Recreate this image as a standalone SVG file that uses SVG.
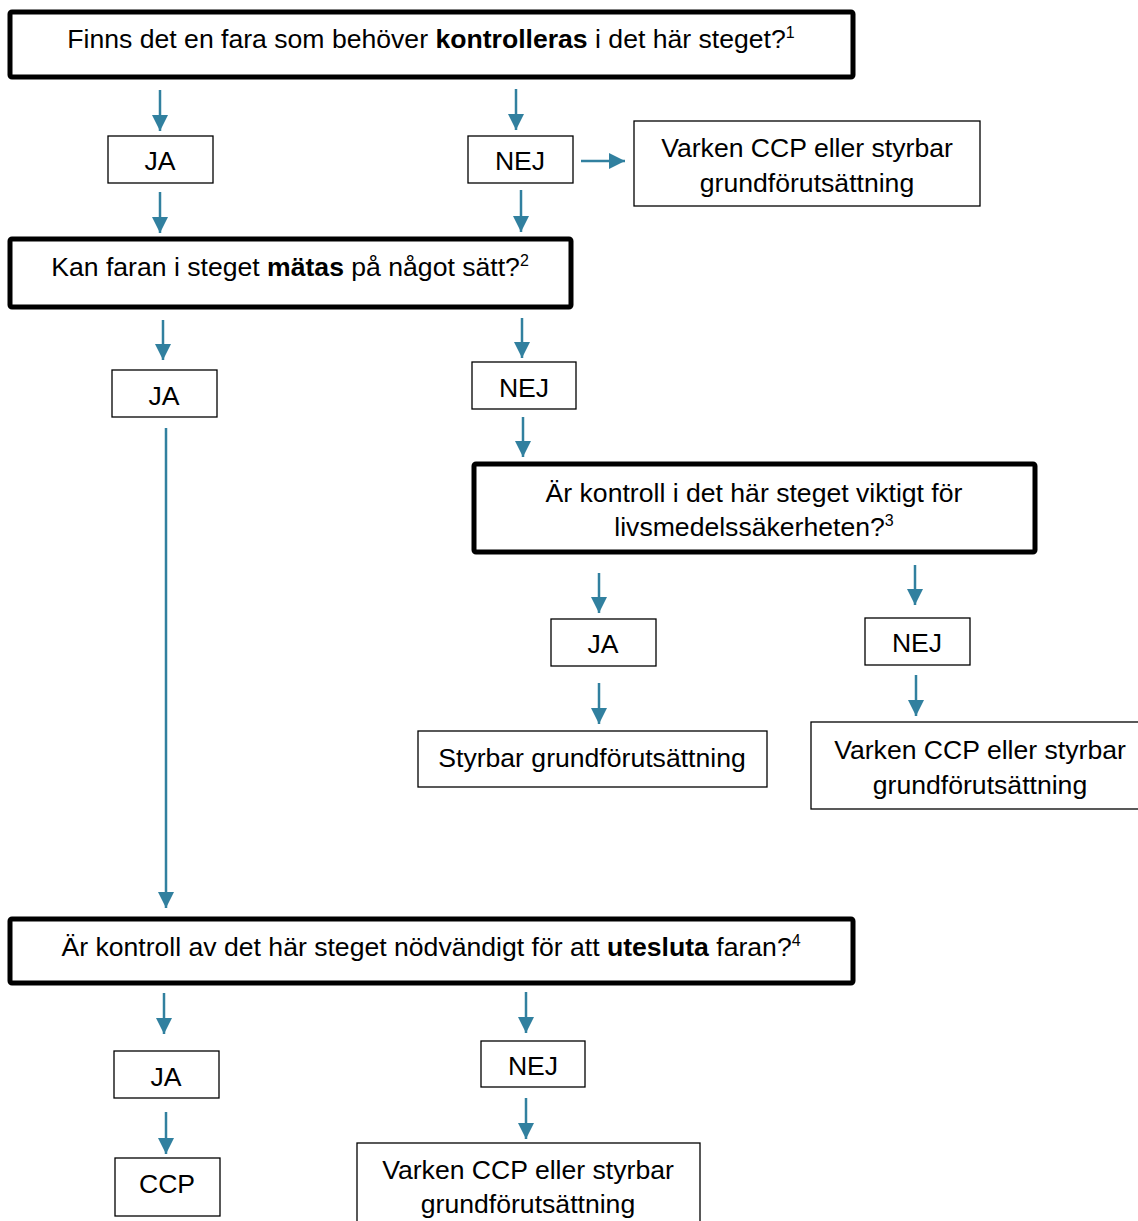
<svg xmlns="http://www.w3.org/2000/svg" width="1138" height="1221" viewBox="0 0 1138 1221">
<defs>
<style>
text{font-family:"Liberation Sans",Arial,sans-serif;font-size:26.6px;fill:#000;text-anchor:middle}
.b{font-weight:bold}
.sup{font-size:16px}
.q{fill:#fff;stroke:#000;stroke-width:5}
.a{fill:#fff;stroke:#000;stroke-width:1.3}
.c line{stroke:#31809f;stroke-width:2.5;marker-end:url(#ah)}
</style>
<marker id="ah" markerUnits="userSpaceOnUse" markerWidth="17" markerHeight="16" refX="16" refY="8" orient="auto">
<path d="M0,0 L16,8 L0,16 z" fill="#31809f"/>
</marker>
</defs>
<rect width="1138" height="1221" fill="#fff"/>
<g class="c" id="connectors">
<line x1="160" y1="90" x2="160" y2="131"/>
<line x1="516" y1="89" x2="516" y2="130"/>
<line x1="581" y1="161" x2="625" y2="161"/>
<line x1="160" y1="192" x2="160" y2="233"/>
<line x1="521" y1="190" x2="521" y2="232"/>
<line x1="163" y1="320" x2="163" y2="360"/>
<line x1="522" y1="318" x2="522" y2="358"/>
<line x1="523" y1="417" x2="523" y2="457"/>
<line x1="166" y1="428" x2="166" y2="908"/>
<line x1="599" y1="573" x2="599" y2="613"/>
<line x1="915" y1="565" x2="915" y2="605"/>
<line x1="599" y1="683" x2="599" y2="724"/>
<line x1="916" y1="675" x2="916" y2="716"/>
<line x1="164" y1="993" x2="164" y2="1034"/>
<line x1="526" y1="992" x2="526" y2="1033"/>
<line x1="166" y1="1112" x2="166" y2="1154"/>
<line x1="526" y1="1098" x2="526" y2="1139"/>
</g>
<g id="q1"><rect class="q" x="10" y="12" width="843" height="65" rx="2"/>
<text x="431" y="48">Finns det en fara som behöver <tspan class="b">kontrolleras</tspan> i det här steget?<tspan class="sup" dy="-10">1</tspan></text></g>
<g id="ja1"><rect class="a" x="108" y="136" width="105" height="47"/><text x="160" y="170">JA</text></g>
<g id="nej1"><rect class="a" x="468" y="136" width="105" height="47"/><text x="520" y="170">NEJ</text></g>
<g id="varken1"><rect class="a" x="634" y="121" width="346" height="85"/><text x="807" y="157">Varken CCP eller styrbar</text><text x="807" y="192">grundförutsättning</text></g>
<g id="q2"><rect class="q" x="10" y="239" width="561" height="68" rx="2"/>
<text x="290" y="276">Kan faran i steget <tspan class="b">mätas</tspan> på något sätt?<tspan class="sup" dy="-10">2</tspan></text></g>
<g id="ja2"><rect class="a" x="112" y="370" width="105" height="47"/><text x="164" y="405">JA</text></g>
<g id="nej2"><rect class="a" x="472" y="362" width="104" height="47"/><text x="524" y="397">NEJ</text></g>
<g id="q3"><rect class="q" x="474" y="464" width="561" height="88" rx="2"/>
<text x="754" y="502">Är kontroll i det här steget viktigt för</text>
<text x="754" y="536">livsmedelssäkerheten?<tspan class="sup" dy="-10">3</tspan></text></g>
<g id="ja3"><rect class="a" x="551" y="619" width="105" height="47"/><text x="603" y="653">JA</text></g>
<g id="nej3"><rect class="a" x="865" y="618" width="105" height="47"/><text x="917" y="652">NEJ</text></g>
<g id="styrbar"><rect class="a" x="418" y="731" width="349" height="56"/><text x="592" y="767">Styrbar grundförutsättning</text></g>
<g id="varken2"><rect class="a" x="811" y="722" width="335" height="87"/><text x="980" y="759">Varken CCP eller styrbar</text><text x="980" y="794">grundförutsättning</text></g>
<g id="q4"><rect class="q" x="10" y="919" width="843" height="64" rx="2"/>
<text x="431" y="956">Är kontroll av det här steget nödvändigt för att <tspan class="b">utesluta</tspan> faran?<tspan class="sup" dy="-10">4</tspan></text></g>
<g id="ja4"><rect class="a" x="114" y="1051" width="105" height="47"/><text x="166" y="1086">JA</text></g>
<g id="nej4"><rect class="a" x="481" y="1041" width="104" height="46"/><text x="533" y="1075">NEJ</text></g>
<g id="ccp"><rect class="a" x="115" y="1158" width="105" height="58"/><text x="167" y="1193">CCP</text></g>
<g id="varken3"><rect class="a" x="357" y="1143" width="343" height="90"/><text x="528" y="1179">Varken CCP eller styrbar</text><text x="528" y="1213">grundförutsättning</text></g>
</svg>
